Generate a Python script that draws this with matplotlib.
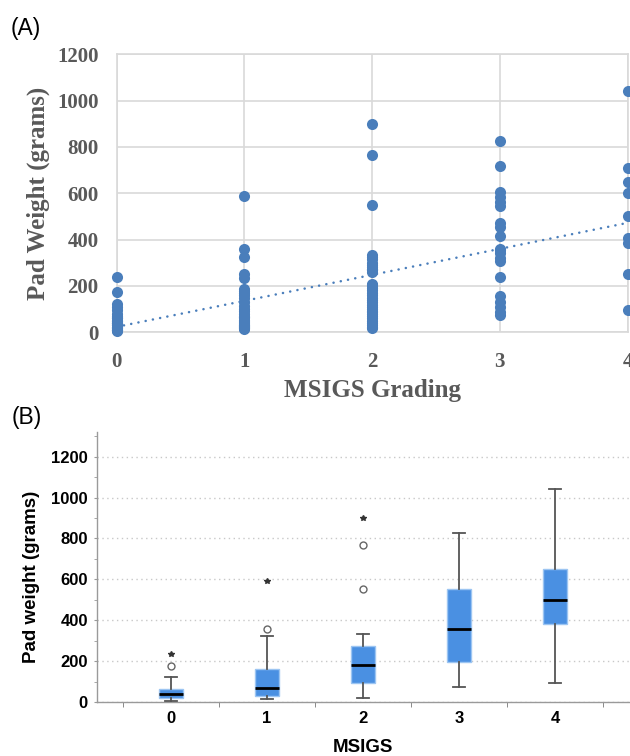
import numpy as np
import matplotlib
matplotlib.use("Agg")
import matplotlib.pyplot as plt

# ---------------- data ----------------
grades = [0, 1, 2, 3, 4]
grade_labels = ["0", "1", "2", "3", "4"]

weights_g0 = [5, 8, 10, 12, 15, 18, 20, 22, 25, 30, 32, 35, 38, 40, 42, 45, 48,
              50, 55, 60, 62, 65, 70, 80, 95, 110, 122, 175, 237]
weights_g1 = [15, 18, 20, 22, 25, 27, 28, 30, 32, 35, 40, 45, 50, 55, 60, 65, 68,
              72, 80, 90, 100, 115, 130, 150, 161, 170, 180, 185, 235, 250, 326,
              360, 590]
weights_g2 = [20, 25, 30, 40, 50, 60, 70, 80, 88, 93, 100, 110, 120, 130, 140,
              150, 160, 170, 181, 190, 200, 205, 210, 262, 268, 270, 272, 274,
              280, 290, 300, 315, 325, 332, 551, 766, 900]
weights_g3 = [75, 89, 111, 132, 158, 240, 309, 319, 341, 355, 358, 416, 456, 470,
              547, 561, 585, 604, 719, 825]
weights_g4 = [96, 252, 384, 405, 500, 600, 650, 708, 1041]

yticks_a = [0, 200, 400, 600, 800, 1000, 1200]
yticks_b = [0, 200, 400, 600, 800, 1000, 1200]

groups = [weights_g0, weights_g1, weights_g2, weights_g3, weights_g4]

# ---------------- style ----------------
DOT = "#4a7ebb"
BOX = "#4a90e2"
SERIF = "Liberation Serif"
SANS = "Liberation Sans"


def tukey_stats(values):
    """SPSS-style boxplot statistics (Tukey hinges, 1.5/3 IQR rules)."""
    x = np.sort(np.asarray(values, dtype=float))
    n = len(x)
    med = np.median(x)
    half = (n + 1) // 2
    q1 = np.median(x[:half])
    q3 = np.median(x[n - half:])
    iqr = q3 - q1
    lo_lim, hi_lim = q1 - 1.5 * iqr, q3 + 1.5 * iqr
    inside = x[(x >= lo_lim) & (x <= hi_lim)]
    fl = x[(x < lo_lim) | (x > hi_lim)]
    extreme = (fl > q3 + 3 * iqr) | (fl < q1 - 3 * iqr)
    return dict(med=med, q1=q1, q3=q3, whislo=inside.min(), whishi=inside.max(),
                fliers=np.array([])), fl[~extreme], fl[extreme]


fig = plt.figure(figsize=(6.3, 7.56), dpi=100)

# ================= Panel A =================
axA = fig.add_axes([116.7 / 630, 1 - 332.3 / 756, (627.5 - 116.7) / 630, (332.3 - 54.3) / 756])
xs = np.concatenate([np.full(len(g), k, dtype=float) for k, g in zip(grades, groups)])
ys = np.concatenate([np.asarray(g, dtype=float) for g in groups])
axA.scatter(xs, ys, s=64, color=DOT, zorder=3, clip_on=False, linewidths=0)
slope, intercept = np.polyfit(xs, ys, 1)
xx = np.array([grades[0], grades[-1]], dtype=float)
axA.plot(xx, slope * xx + intercept, color=DOT, lw=1.8,
         linestyle=(0, (0.05, 2.9)), dash_capstyle="round", zorder=2)
axA.set_xlim(0, 4)
axA.set_ylim(0, 1200)
axA.set_xticks(grades)
axA.set_xticklabels(grade_labels)
axA.set_yticks(yticks_a)
axA.set_axisbelow(True)
axA.grid(True, color="#d9d9d9", lw=1.2)
for sp in axA.spines.values():
    sp.set_color("#d9d9d9")
    sp.set_linewidth(1.2)
axA.tick_params(axis="both", length=0, labelcolor="#595959", labelsize=15)
axA.tick_params(axis="y", pad=13)
axA.tick_params(axis="x", pad=14)
for lab in axA.get_xticklabels() + axA.get_yticklabels():
    lab.set_fontfamily(SERIF)
    lab.set_fontweight("bold")
axA.set_xlabel("MSIGS Grading", fontfamily=SERIF, fontweight="bold",
               fontsize=18, color="#595959")
axA.set_ylabel("Pad Weight (grams)", fontfamily=SERIF, fontweight="bold",
               fontsize=18, color="#595959")
axA.xaxis.label.set_va("center")
axA.yaxis.label.set_va("center")
axA.xaxis.set_label_coords(0.5, -(391 - 332.3) / (332.3 - 54.3))
axA.yaxis.set_label_coords(-(116.7 - 38) / (627.5 - 116.7), 0.5)

# ================= Panel B =================
axB = fig.add_axes([97 / 630, 1 - 702.3 / 756, (630 - 97) / 630, (702.3 - 432) / 756])
all_stats = [tukey_stats(g) for g in groups]
stats = [s[0] for s in all_stats]
axB.bxp(stats, positions=grades, widths=0.245, showfliers=False,
        patch_artist=True,
        boxprops=dict(facecolor=BOX, edgecolor="#9cc5f2", linewidth=1.0),
        medianprops=dict(color="black", linewidth=2.0),
        whiskerprops=dict(color="#555555", linewidth=1.3),
        capprops=dict(color="#555555", linewidth=1.3),
        capwidths=0.12, zorder=3)
for pos, (_, mild, ext) in zip(grades, all_stats):
    axB.plot(np.full(len(mild), pos), mild, linestyle="none", marker="o",
             mfc="none", mec="#666666", ms=5, mew=1.0, zorder=4)
    axB.plot(np.full(len(ext), pos), ext, linestyle="none", marker="*",
             color="#333333", ms=4, zorder=4)

axB.set_xlim(-0.771, 4.781)
axB.set_ylim(0, 1320)
axB.set_xticks(grades)
axB.set_xticklabels(grade_labels)
axB.set_xticks([g - 0.5 for g in grades] + [grades[-1] + 0.5], minor=True)
axB.set_yticks(yticks_b)
axB.set_yticks(np.arange(100, 1400, 200), minor=True)
axB.yaxis.grid(True, which="major", color="#c8c8c8", linestyle=(0, (1, 2.5)), lw=1.0)
axB.set_axisbelow(True)
for side in ["top", "right"]:
    axB.spines[side].set_visible(False)
for side in ["left", "bottom"]:
    axB.spines[side].set_color("#9a9a9a")
    axB.spines[side].set_linewidth(1.0)
axB.tick_params(axis="x", which="major", length=0, pad=6, labelsize=12)
axB.tick_params(axis="x", which="minor", length=3.5, color="#777777", direction="out")
axB.tick_params(axis="y", which="both", length=2.5, color="#999999", direction="out")
axB.tick_params(axis="y", which="major", pad=4, labelsize=12)
for lab in axB.get_xticklabels() + axB.get_yticklabels():
    lab.set_fontfamily(SANS)
    lab.set_fontweight("bold")
axB.set_xlabel("MSIGS", fontfamily=SANS, fontweight="bold", fontsize=13.5)
axB.set_ylabel("Pad weight (grams)", fontfamily=SANS, fontweight="bold", fontsize=13.5)
axB.xaxis.label.set_va("center")
axB.yaxis.label.set_va("center")
axB.xaxis.set_label_coords((362.5 - 97) / 533, -(748 - 702.3) / 270.3)
axB.yaxis.set_label_coords(-(97 - 32) / 533, (702.3 - 576.5) / 270.3)

# ================= panel letters =================
fig.text(11 / 630, 1 - 28 / 756, "(A)", fontfamily=SANS, fontsize=16.5, va="center", ha="left")
fig.text(12 / 630, 1 - 417 / 756, "(B)", fontfamily=SANS, fontsize=16.5, va="center", ha="left")

fig.savefig("out.png", dpi=100)
